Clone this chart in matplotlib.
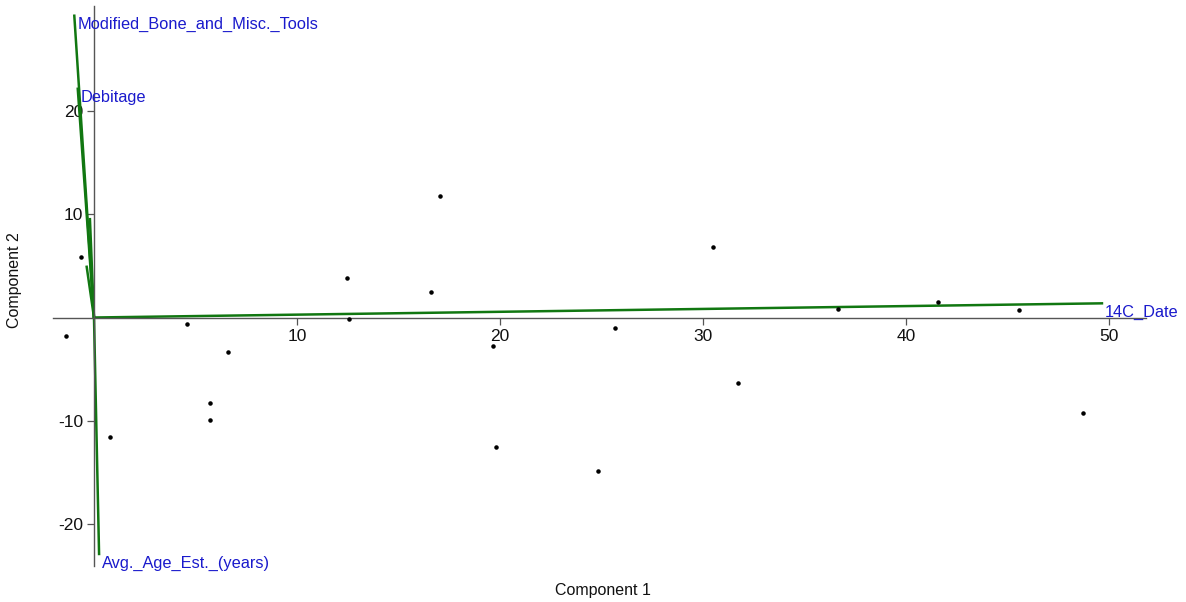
import matplotlib
matplotlib.use("Agg")
import matplotlib.pyplot as plt

plt.rcParams['font.family'] = ['Liberation Sans', 'DejaVu Sans']
plt.rcParams['axes.unicode_minus'] = False

# PCA scores (Component 1, Component 2)
comp1 = [-1.38, -0.64, 0.80, 4.57, 5.70, 5.73, 6.62, 12.45, 12.58, 17.04, 16.60,
         19.64, 19.79, 24.83, 25.65, 30.51, 31.72, 36.63, 41.59, 45.58, 48.70]
comp2 = [-1.76, 5.87, -11.57, -0.66, -8.23, -9.93, -3.33, 3.85, -0.17, 11.77, 2.49,
         -2.75, -12.48, -14.80, -0.99, 6.78, -6.30, 0.79, 1.53, 0.70, -9.26]

# loading vectors (biplot)
var_names = ['Modified_Bone_and_Misc._Tools', 'Debitage', 'Avg._Age_Est._(years)', '14C_Date']
load1 = [-0.97, -0.80, 0.25, 49.65]
load2 = [29.16, 22.10, -22.85, 1.37]
# short unlabeled vectors near the origin
small1 = [-0.36, -0.20]
small2 = [4.90, 9.50]

x_ticks = [10, 20, 30, 40, 50]
y_ticks = [-20, -10, 10, 20]

fig = plt.figure(figsize=(11.86, 6.02), dpi=100)
ax = fig.add_axes([0, 0, 1, 1])
ax.set_xlim(-4.63, 53.79)
ax.set_ylim(-27.49, 30.68)

# axes crossing at the origin
for side in ['top', 'right']:
    ax.spines[side].set_visible(False)
ax.spines['left'].set_position(('data', 0))
ax.spines['bottom'].set_position(('data', 0))
ax.spines['left'].set_bounds(-24.0, 30.1)
ax.spines['bottom'].set_bounds(-2.0, 51.8)
for side in ['left', 'bottom']:
    ax.spines[side].set_color('#555555')
    ax.spines[side].set_linewidth(1.0)

ax.set_xticks(x_ticks)
ax.set_yticks(y_ticks)
ax.tick_params(axis='both', direction='out', length=5, width=0.9, color='#555555',
               labelsize=12.5, labelcolor='#111111', pad=3)

# vectors
for dx, dy in zip(small1, small2):
    ax.plot([0, dx], [0, dy], color='#117711', lw=1.8, zorder=2)
for name, dx, dy in zip(var_names, load1, load2):
    ax.plot([0, dx], [0, dy], color='#117711', lw=1.8, zorder=2)
    ax.annotate(name, (dx, dy), xytext=(3, -9), textcoords='offset pixels',
                ha='left', va='center', color='#1a1acc', fontsize=11.8, zorder=4)

ax.scatter(comp1, comp2, s=5, color='black', zorder=3)

fig.text(603 / 1186, 1 - 590 / 602, 'Component 1', ha='center', va='center',
         fontsize=11.5, color='#111111')
fig.text(15 / 1186, 1 - 280 / 602, 'Component 2', ha='center', va='center',
         rotation=90, fontsize=11.5, color='#111111')

fig.savefig('out.png', dpi=100)
